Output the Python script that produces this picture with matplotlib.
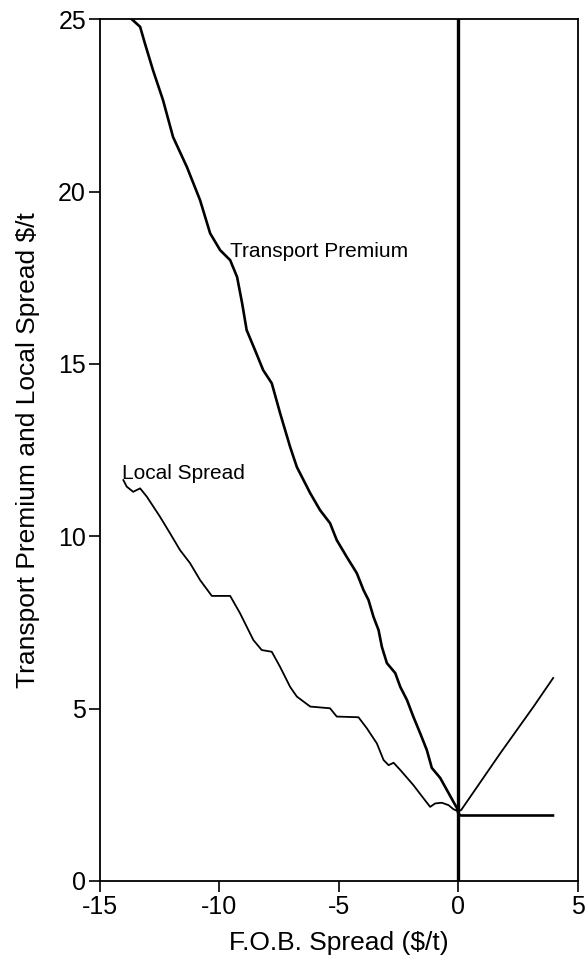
import matplotlib
matplotlib.use("Agg")
import matplotlib.pyplot as plt

plt.rcParams['font.family'] = ['Liberation Sans', 'DejaVu Sans']
plt.rcParams['axes.unicode_minus'] = False

# F.O.B. spread ($/t) and transport premium ($/t)
tp_x = [-13.67, -13.32, -13.12, -12.78, -12.36, -11.94, -11.36, -10.81, -10.39, -9.97,
        -9.55, -9.26, -9.05, -8.86, -8.51, -8.17, -7.81, -7.46, -7.04, -6.76,
        -6.20, -5.79, -5.37, -5.09, -4.67, -4.25, -3.97, -3.76, -3.55, -3.34,
        -3.20, -2.99, -2.64, -2.43, -2.15, -1.88, -1.60, -1.32, -1.11, -0.76,
        -0.48, -0.20, -0.06, 0.0, 0.10, 3.96]
tp_y = [25.0, 24.78, 24.30, 23.52, 22.65, 21.58, 20.71, 19.75, 18.79, 18.30,
        18.01, 17.52, 16.76, 15.98, 15.40, 14.82, 14.44, 13.57, 12.59, 12.01,
        11.25, 10.76, 10.38, 9.89, 9.40, 8.93, 8.44, 8.15, 7.66, 7.28,
        6.79, 6.32, 6.03, 5.63, 5.25, 4.76, 4.29, 3.80, 3.28, 2.99,
        2.64, 2.29, 2.12, 1.95, 1.90, 1.90]

# F.O.B. spread ($/t) and local spread ($/t)
ls_x = [-14.02, -13.88, -13.61, -13.32, -13.04, -12.49, -12.07, -11.65, -11.23, -10.81,
        -10.32, -9.55, -9.14, -8.58, -8.23, -7.81, -7.46, -7.04, -6.76, -6.20,
        -5.37, -5.09, -4.18, -3.83, -3.41, -3.13, -2.92, -2.71, -2.43, -1.88,
        -1.46, -1.18, -0.97, -0.69, -0.41, -0.20, 0.0, 0.12, 1.75, 3.15, 3.97]
ls_y = [11.63, 11.44, 11.29, 11.39, 11.15, 10.57, 10.09, 9.60, 9.22, 8.73,
        8.27, 8.27, 7.77, 6.99, 6.70, 6.65, 6.21, 5.63, 5.35, 5.06,
        5.01, 4.77, 4.75, 4.43, 3.99, 3.51, 3.36, 3.43, 3.22, 2.78,
        2.40, 2.15, 2.25, 2.27, 2.20, 2.08, 2.02, 2.06, 3.70, 5.06, 5.89]

x_ticks = [-15, -10, -5, 0, 5]
y_ticks = [0, 5, 10, 15, 20, 25]

fig = plt.figure(figsize=(5.86, 9.60), dpi=100)
ax = fig.add_axes([0.1706, 0.0823, 0.8154, 0.8977])

ax.plot(tp_x, tp_y, color='black', lw=1.9, solid_joinstyle='round')
ax.plot(ls_x, ls_y, color='black', lw=1.3, solid_joinstyle='round')
ax.axvline(0, color='black', lw=2.4)

ax.text(-9.55, 18.11, 'Transport Premium', fontsize=15, va='baseline', ha='left')
ax.text(-14.09, 11.65, 'Local Spread', fontsize=15, va='baseline', ha='left')

ax.set_xlim(-15, 5)
ax.set_ylim(0, 25)
ax.set_xticks(x_ticks)
ax.set_yticks(y_ticks)
ax.tick_params(direction='out', length=8, width=1.2, labelsize=18, pad=2)
for s in ax.spines.values():
    s.set_linewidth(1.3)

ax.set_xlabel('F.O.B. Spread ($/t)', fontsize=19, labelpad=9)
ax.set_ylabel('Transport Premium and Local Spread $/t', fontsize=19, labelpad=13)

fig.savefig('out.png', dpi=100)
